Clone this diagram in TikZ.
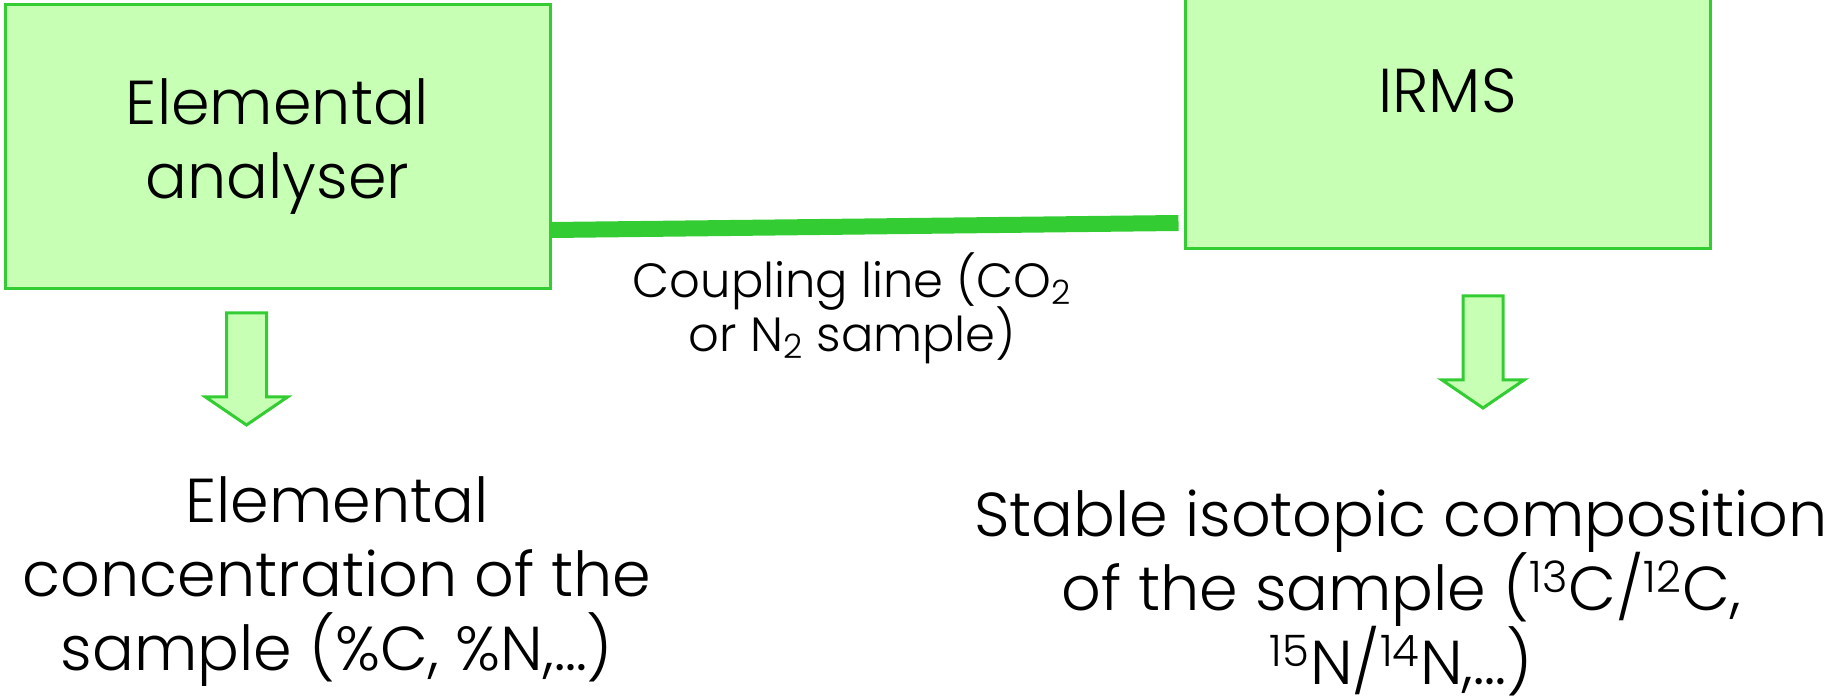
\documentclass[tikz,border=0pt]{standalone}
\usepackage{fontspec}
\setmainfont{Poppins Light}
\usetikzlibrary{calc}

\definecolor{boxfill}{RGB}{199,255,180}
\definecolor{boxedge}{RGB}{51,204,51}

\newcommand{\bigtext}{\fontsize{31}{37}\selectfont\lineskiplimit=-100pt}
\newcommand{\smalltext}{\fontsize{24}{27}\selectfont\lineskiplimit=-100pt}

\tikzstyle{stage} = [draw=boxedge, fill=boxfill, line width=1.5pt, inner sep=0pt, align=center, font=\bigtext]
\tikzstyle{result} = [align=center, inner sep=0pt, font=\bigtext]
\tikzstyle{coupling} = [draw=boxedge, line width=8pt]

\begin{document}
\begin{tikzpicture}[x=0.5pt, y=-0.5pt,
    blockarrow/.pic={
      \filldraw[draw=boxedge, fill=boxfill, line width=1.5pt, line join=miter]
        (-20,0) -- (20,0) -- (20,84) -- (41,84) -- (0,112) -- (-41,84) -- (-20,84) -- cycle;
    }]
    \useasboundingbox (0,0) rectangle (1846,699);

    % the two instruments
    \node[stage, minimum width=272.5pt, minimum height=142pt] (ea) at (277.5,147) {Elemental\\analyser};
    \node[stage, minimum width=262.5pt, minimum height=158pt] (irms) at (1447.5,91) {IRMS};

    % coupling between them
    \draw[coupling] (ea.east |- 0,230) -- node[pos=0.48, below=9pt, align=center, inner sep=0pt,
        font=\smalltext] (cl) {Coupling line (CO\textsubscript{2}\\or N\textsubscript{2} sample)}
        ([xshift=-2.5pt]irms.west |- 0,223);

    % what each one gives
    \pic at (246.5,313) {blockarrow};
    \pic at (1483,296) {blockarrow};
    \node[result] (conc) at (337,582) {Elemental\\concentration of the\\sample (\%C, \%N,\ldots)};
    \node[result] (iso) at (1401,593) {Stable isotopic composition\\of the sample (\textsuperscript{13}C/\textsuperscript{12}C,\\\textsuperscript{15}N/\textsuperscript{14}N,\ldots)};
\end{tikzpicture}
\end{document}
